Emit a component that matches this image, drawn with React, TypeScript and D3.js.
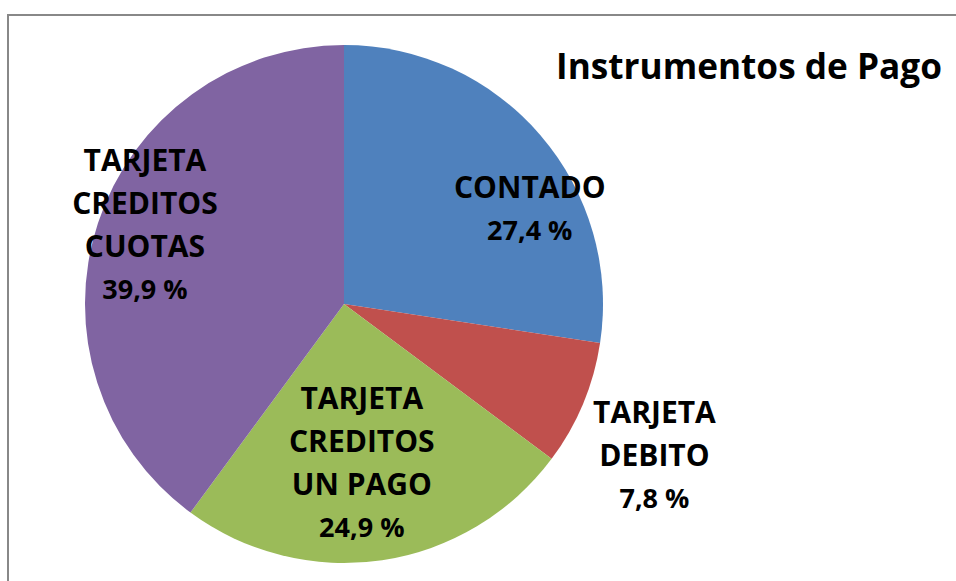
import React from 'react'
import * as d3 from 'd3'

// values (percent of total)
const categories = ['CONTADO', 'TARJETA DEBITO', 'TARJETA CREDITOS UN PAGO', 'TARJETA CREDITOS CUOTAS']
const labelLines = [['CONTADO'], ['TARJETA', 'DEBITO'], ['TARJETA', 'CREDITOS', 'UN PAGO'], ['TARJETA', 'CREDITOS', 'CUOTAS']]
const values = [27.4, 7.8, 24.9, 39.9]
const valueLabels = ['27,4 %', '7,8 %', '24,9 %', '39,9 %']
const colors = ['#4F81BD', '#C0504D', '#9BBB59', '#8064A2']

function App() {
  const width = 956
  const height = 581
  const cx = 344
  const cy = 304
  const radius = 259
  const lineHeight = 43

  const pie = d3.pie<number>().sort(null).value(d => d)
  const arcs = pie(values)
  const arc = d3.arc<d3.PieArcDatum<number>>().innerRadius(0).outerRadius(radius)

  // "best fit" style label placement: how far out along the slice, and a small angle nudge
  const labelRadius = [0.81, 1.33, 0.61, 0.83]
  const labelNudge = [13, 3, 2, 4]

  return (
    <svg width={width} height={height} style={{ position: 'absolute', left: 0, top: 0 }}
      fontFamily="'Open Sans', sans-serif">
      <rect x={8} y={15} width={width} height={height} fill="white" stroke="#888" strokeWidth={2} />
      <text x={556} y={79} fontSize={35} fontWeight={700} fill="#000"
        textLength={386} lengthAdjust="spacingAndGlyphs">Instrumentos de Pago</text>

      <g transform={`translate(${cx} ${cy})`}>
        {arcs.map((a, i) => <path key={categories[i]} d={arc(a) || ''} fill={colors[i]} />)}

        {arcs.map((a, i) => {
          const mid = (a.startAngle + a.endAngle) / 2 + (labelNudge[i] * Math.PI) / 180
          const r = radius * labelRadius[i]
          const x = Math.sin(mid) * r
          const y = -Math.cos(mid) * r
          const lines = labelLines[i]
          const total = lines.length + 1
          const top = y - ((total - 1) * lineHeight) / 2
          return (
            <g key={categories[i]} textAnchor="middle" fill="#000">
              {lines.map((line, j) => (
                <text key={line + j} x={x} y={top + j * lineHeight + 2} dy="0.35em" fontSize={30} fontWeight={700}>{line}</text>
              ))}
              <text x={x} y={top + lines.length * lineHeight + 2} dy="0.35em" fontSize={27} fontWeight={700}>{valueLabels[i]}</text>
            </g>
          )
        })}
      </g>
    </svg>
  )
}

export default App
